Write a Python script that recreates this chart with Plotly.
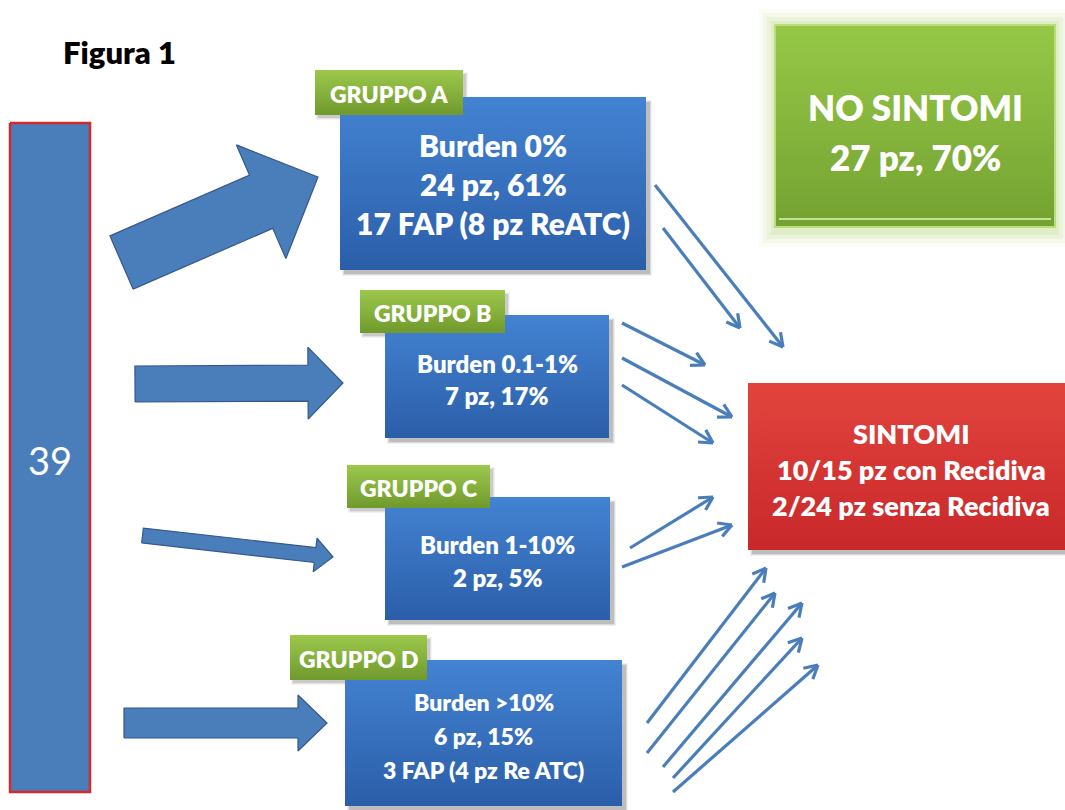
import math
import plotly.graph_objects as go

# ---- content -------------------------------------------------------------
title_text = "Figura 1"
total_patients = 39

group_names = ["GRUPPO A", "GRUPPO B", "GRUPPO C", "GRUPPO D"]
burden_labels = ["Burden 0%", "Burden 0.1-1%", "Burden 1-10%", "Burden >10%"]
group_patients = [24, 7, 2, 6]
group_percent = [61, 17, 5, 15]
fap_notes = ["17 FAP (8 pz ReATC)", None, None, "3 FAP (4 pz Re ATC)"]

no_symptom_patients = 27
no_symptom_percent = 70
symptom_title = "SINTOMI"
symptom_lines = ["10/15 pz con Recidiva", "2/24 pz senza Recidiva"]

# ---- geometry (pixel space: x right, y down) -----------------------------
W, H = 1065, 810
bar_box = (10, 123, 90, 792)
group_boxes = [(340, 97, 646, 270), (385, 315, 609, 438),
               (385, 497, 610, 620), (345, 660, 622, 806)]
label_boxes = [(315, 70, 463, 115), (360, 290, 505, 333),
               (347, 465, 490, 508), (290, 635, 427, 680)]
group_text_center = [184, 379, 561, 736]
group_text_step = [39, 32, 33, 34]
group_font = [30, 24, 24, 23]
no_symptom_box = (775, 25, 1055, 227)
symptom_box = (748, 383, 1065, 550)

# block arrows: tail point, tip point, shaft width, head width, head length
block_arrows = [((121.5, 262.5), (318, 177), 58, 124, 62),
                ((135, 384), (343, 383), 36, 72, 35),
                ((142.5, 535.5), (333, 557), 15, 34, 18),
                ((124, 723), (327, 723), 30, 56, 29)]

# thin arrows from each group towards the outcome boxes
thin_arrows = [
    [(655, 185, 783, 347), (663, 228, 740, 328)],
    [(622, 323, 705, 365), (622, 358, 732, 417), (622, 385, 713, 443)],
    [(630, 548, 713, 497), (622, 567, 732, 525)],
    [(647, 723, 766, 568), (647, 753, 775, 593), (663, 767, 802, 603),
     (673, 778, 802, 638), (673, 792, 818, 665)],
]

# ---- styles --------------------------------------------------------------
FONT = "Lato"
WEIGHT = 800
BLUE_TOP, BLUE_BOT = "#4383d2", "#2b5ea9"
ARROW_FILL, ARROW_EDGE = "#4a7ebb", "#34598a"
GREEN_TOP, GREEN_BOT = "#9dc84c", "#6f9a2c"
BIG_GREEN_TOP, BIG_GREEN_BOT = "#96c846", "#74a232"
RED_TOP, RED_BOT = "#e2443d", "#c8282a"

fig = go.Figure()
shapes = []
annotations = []


def rect_trace(box, top, bot, edge=None, edge_w=0):
    x0, y0, x1, y1 = box
    fig.add_trace(go.Scatter(
        x=[x0, x1, x1, x0, x0], y=[y0, y0, y1, y1, y0],
        mode="lines", fill="toself",
        fillgradient=dict(type="vertical", start=y0, stop=y1,
                          colorscale=[[0, top], [1, bot]]),
        line=dict(color=edge or "rgba(0,0,0,0)", width=edge_w),
        hoverinfo="skip", showlegend=False))


def shadow(box, off=4, alpha=0.28):
    x0, y0, x1, y1 = box
    for k in range(3):
        shapes.append(dict(type="rect", x0=x0 + off - k, y0=y0 + off - k + 1,
                           x1=x1 + off + k, y1=y1 + off + k,
                           fillcolor=f"rgba(60,60,60,{alpha / (k + 1.5):.3f})",
                           line=dict(width=0), layer="below"))


def text(x, y, s, size, color="white", bold=True):
    annotations.append(dict(
        x=x, y=y, xref="x", yref="y", text=s,
        showarrow=False, xanchor="center", yanchor="middle",
        font=dict(family=FONT, size=size, color=color,
                  weight=WEIGHT if bold else "normal")))


def block_arrow(tail, tip, shaft, head_w, head_len):
    (tx, ty), (px, py) = tail, tip
    L = math.hypot(px - tx, py - ty)
    ux, uy = (px - tx) / L, (py - ty) / L
    nx, ny = -uy, ux
    bx, by = px - ux * head_len, py - uy * head_len
    pts = [(tx + nx * shaft / 2, ty + ny * shaft / 2),
           (bx + nx * shaft / 2, by + ny * shaft / 2),
           (bx + nx * head_w / 2, by + ny * head_w / 2),
           (px, py),
           (bx - nx * head_w / 2, by - ny * head_w / 2),
           (bx - nx * shaft / 2, by - ny * shaft / 2),
           (tx - nx * shaft / 2, ty - ny * shaft / 2)]
    pts.append(pts[0])
    fig.add_trace(go.Scatter(
        x=[p[0] for p in pts], y=[p[1] for p in pts], mode="lines",
        fill="toself", fillcolor=ARROW_FILL,
        line=dict(color=ARROW_EDGE, width=1.2),
        hoverinfo="skip", showlegend=False))


def thin_arrow(x0, y0, x1, y1, head=15, spread=0.5):
    L = math.hypot(x1 - x0, y1 - y0)
    ux, uy = (x1 - x0) / L, (y1 - y0) / L
    xs, ys = [x0, x1, None], [y0, y1, None]
    for s in (spread, -spread):
        c, sn = math.cos(s), math.sin(s)
        dx = -(ux * c - uy * sn) * head
        dy = -(ux * sn + uy * c) * head
        xs += [x1, x1 + dx, None]
        ys += [y1, y1 + dy, None]
    fig.add_trace(go.Scatter(
        x=xs, y=ys, mode="lines",
        line=dict(color=ARROW_FILL, width=3.2),
        hoverinfo="skip", showlegend=False))


# title
annotations.append(dict(x=61, y=52, xref="x", yref="y", xanchor="left",
                        yanchor="middle", showarrow=False, text=title_text,
                        font=dict(family=FONT, size=31, color="black",
                                  weight=WEIGHT)))

# total cohort bar
x0, y0, x1, y1 = bar_box
fig.add_trace(go.Scatter(
    x=[x0, x1, x1, x0, x0], y=[y0, y0, y1, y1, y0], mode="lines",
    fill="toself", fillcolor="#4a7ebb",
    line=dict(color="#d42a2a", width=2.5),
    hoverinfo="skip", showlegend=False))
text((x0 + x1) / 2, 460, str(total_patients), 38, bold=False)

# block arrows towards the groups
for tail, tip, sw, hw, hl in block_arrows:
    block_arrow(tail, tip, sw, hw, hl)

# group boxes
for i, name in enumerate(group_names):
    box = group_boxes[i]
    shadow(box)
    rect_trace(box, BLUE_TOP, BLUE_BOT)
    shadow(label_boxes[i], off=3, alpha=0.22)
    rect_trace(label_boxes[i], GREEN_TOP, GREEN_BOT)
    lx0, ly0, lx1, ly1 = label_boxes[i]
    text((lx0 + lx1) / 2, (ly0 + ly1) / 2 + 1, name, 23)

    lines = [burden_labels[i], f"{group_patients[i]} pz, {group_percent[i]}%"]
    if fap_notes[i]:
        lines.append(fap_notes[i])
    cx = (box[0] + box[2]) / 2
    n = len(lines)
    for k, s in enumerate(lines):
        yy = group_text_center[i] + (k - (n - 1) / 2) * group_text_step[i]
        text(cx, yy, s, group_font[i])

# thin arrows towards outcomes
for group in thin_arrows:
    for a in group:
        thin_arrow(*a)

# NO SINTOMI box with a soft glow
gx0, gy0, gx1, gy1 = no_symptom_box
for pad, a in [(16, 0.06), (12, 0.08), (8, 0.12), (4, 0.18)]:
    shapes.append(dict(type="rect", x0=gx0 - pad, y0=gy0 - pad,
                       x1=gx1 + pad, y1=gy1 + pad + 4,
                       fillcolor=f"rgba(175,210,110,{a})",
                       line=dict(width=0), layer="below"))
rect_trace(no_symptom_box, BIG_GREEN_TOP, BIG_GREEN_BOT,
           edge="#b9dc7c", edge_w=2)
shapes.append(dict(type="line", x0=gx0 + 4, x1=gx1 - 4, y0=gy1 - 8, y1=gy1 - 8,
                   line=dict(color="rgba(215,240,170,0.8)", width=2)))
text((gx0 + gx1) / 2, 107, "NO SINTOMI", 35)
text((gx0 + gx1) / 2, 157, f"{no_symptom_patients} pz, {no_symptom_percent}%", 35)

# SINTOMI box
shadow(symptom_box)
rect_trace(symptom_box, RED_TOP, RED_BOT)
sx = 911
for k, s in enumerate([symptom_title] + symptom_lines):
    text(sx, 433 + k * 36, s, 27)

fig.update_layout(
    width=W, height=H, margin=dict(l=0, r=0, t=0, b=0),
    paper_bgcolor="white", plot_bgcolor="white",
    xaxis=dict(range=[0, W], visible=False, fixedrange=True),
    yaxis=dict(range=[H, 0], visible=False, fixedrange=True),
    shapes=shapes, annotations=annotations, showlegend=False)

fig.write_html("out.html")
